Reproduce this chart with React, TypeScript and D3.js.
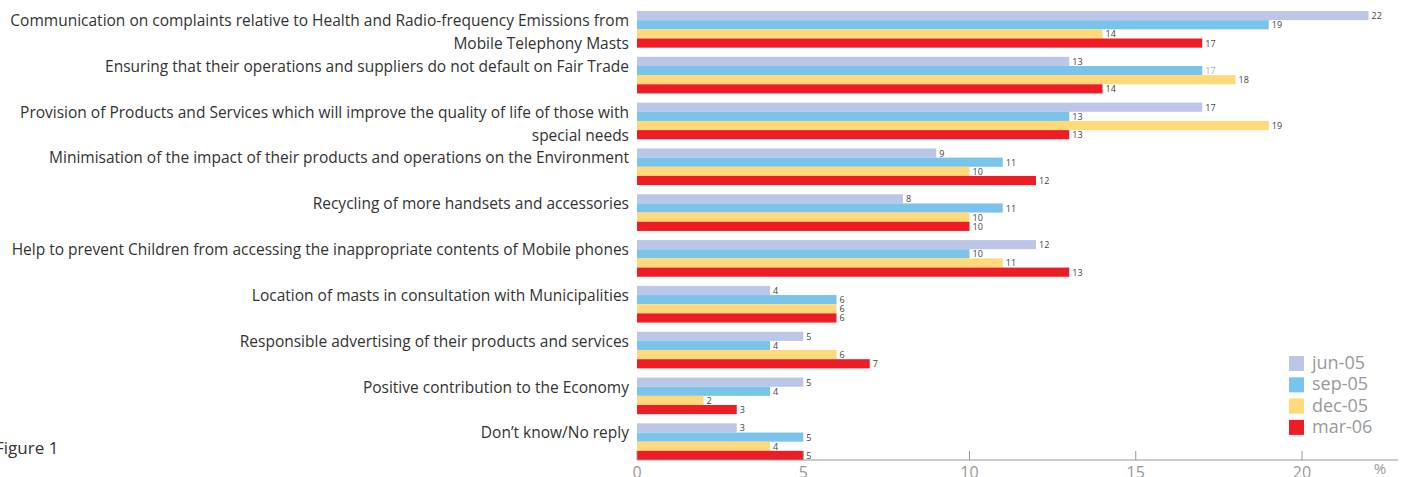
import React from "react";
import * as d3 from "d3";

const categories: string[][] = [
  ["Communication on complaints relative to Health and Radio-frequency Emissions from", "Mobile Telephony Masts"],
  ["Ensuring that their operations and suppliers do not default on Fair Trade"],
  ["Provision of Products and Services which will improve the quality of life of those with", "special needs"],
  ["Minimisation of the impact of their products and operations on the Environment"],
  ["Recycling of more handsets and accessories"],
  ["Help to prevent Children from accessing the inappropriate contents of Mobile phones"],
  ["Location of masts in consultation with Municipalities"],
  ["Responsible advertising of their products and services"],
  ["Positive contribution to the Economy"],
  ["Don\u2019t know/No reply"],
];

const seriesNames = ["jun-05", "sep-05", "dec-05", "mar-06"];
const seriesColors = ["#BCC6E6", "#7AC4EC", "#FFD97A", "#EE1C25"];

const jun05 = [22, 13, 17, 9, 8, 12, 4, 5, 5, 3];
const sep05 = [19, 17, 13, 11, 11, 10, 6, 4, 4, 5];
const dec05 = [14, 18, 19, 10, 10, 11, 6, 6, 2, 4];
const mar06 = [17, 14, 13, 12, 10, 13, 6, 7, 3, 5];
const seriesValues = [jun05, sep05, dec05, mar06];

const xTicks = [0, 5, 10, 15, 20];

const W = 1405;
const H = 477;
const FONT = "'Open Sans', 'Noto Sans', sans-serif";

export default function App() {
  const x = d3.scaleLinear().domain([0, 20]).range([637, 1302]);
  const y = d3
    .scaleBand<number>()
    .domain(d3.range(categories.length))
    .range([11, 460])
    .paddingInner(0.2)
    .paddingOuter(0);
  const inner = d3
    .scaleBand<number>()
    .domain(d3.range(seriesNames.length))
    .range([0, y.bandwidth()]);

  return (
    <svg
      width={W}
      height={H}
      style={{ position: "absolute", left: 0, top: 0, background: "#fff" }}
      fontFamily={FONT}
    >
      {categories.map((lines, i) => (
        <text key={"c" + i} textAnchor="end" fontSize={15.5} fill="#333">
          {lines.map((l, j) => (
            <tspan key={j} x={629} y={(y(i) as number) + 15 + j * 23}>
              {l}
            </tspan>
          ))}
        </text>
      ))}
      {categories.map((_, i) =>
        seriesValues.map((vals, s) => {
          const y0 = (y(i) as number) + (inner(s) as number);
          return (
            <g key={"b" + i + "-" + s}>
              <rect
                x={x(0)}
                y={y0}
                width={x(vals[i]) - x(0)}
                height={inner.bandwidth()}
                fill={seriesColors[s]}
              />
              <text
                x={x(vals[i]) + 3}
                y={y0 + inner.bandwidth() / 2 + 3.5}
                fontSize={9}
                fill={i === 1 && s === 1 ? "#aaa" : "#444"}
              >
                {vals[i]}
              </text>
            </g>
          );
        })
      )}
      <line x1={x(0)} x2={1398} y1={460} y2={460} stroke="#999" strokeWidth={1.2} />
      {xTicks.map((t) => (
        <g key={"t" + t}>
          <line x1={x(t)} x2={x(t)} y1={451} y2={460} stroke="#999" strokeWidth={1} />
          <text x={x(t)} y={478} textAnchor="middle" fontSize={16} fill="#999">
            {t}
          </text>
        </g>
      ))}
      <text x={1380} y={474} textAnchor="middle" fontSize={15} fill="#999">
        %
      </text>
      {seriesNames.map((n, s) => (
        <g key={"l" + s}>
          <rect x={1289} y={356 + s * 21.3} width={15} height={15} fill={seriesColors[s]} />
          <text x={1312} y={369 + s * 21.3} fontSize={18} fill="#999">
            {n}
          </text>
        </g>
      ))}
      <text x={-5} y={454} fontSize={17} fill="#333">
        Figure 1
      </text>
    </svg>
  );
}
